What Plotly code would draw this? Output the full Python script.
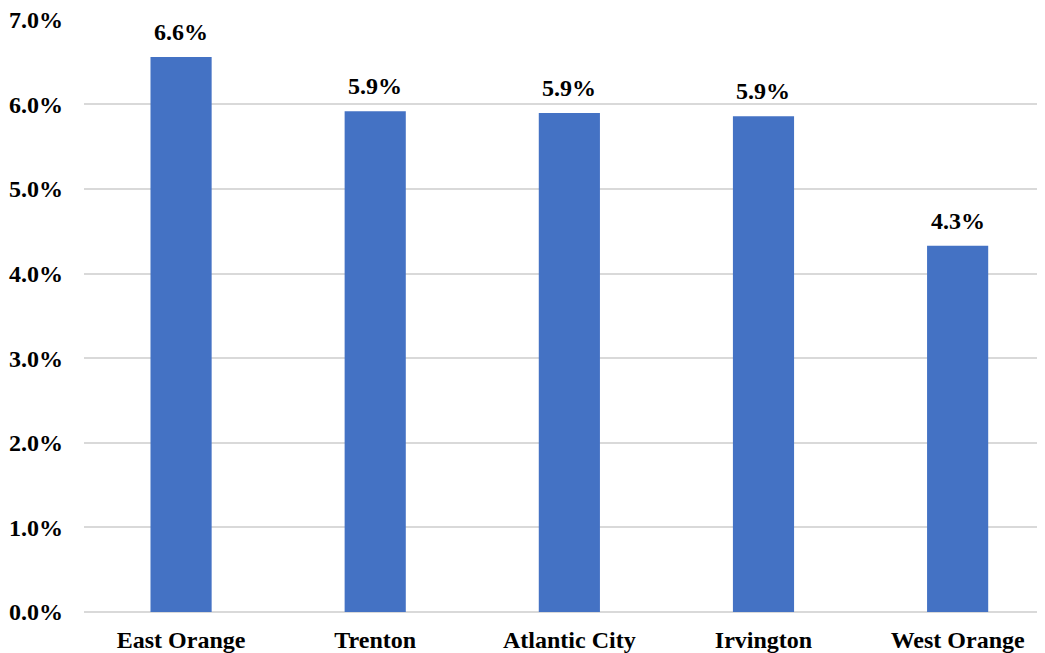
import plotly.graph_objects as go

# data (percent)
cities = ['East Orange', 'Trenton', 'Atlantic City', 'Irvington', 'West Orange']
rates = [6.56, 5.92, 5.90, 5.86, 4.33]
y_ticks = [0, 1, 2, 3, 4, 5, 6, 7]

font_family = 'Liberation Serif, Times New Roman, serif'

fig = go.Figure()
fig.add_trace(go.Bar(
    x=cities, y=rates,
    marker=dict(color='#4472C4', line=dict(width=0)),
    width=0.315,
    hoverinfo='x+y',
))

# value labels above the bars
for c, v in zip(cities, rates):
    fig.add_annotation(
        x=c, y=v, text='<b>%.1f%%</b>' % v,
        showarrow=False, yanchor='bottom', yshift=10,
        font=dict(family=font_family, size=24, color='black'),
    )

# the page body adds an 8px margin, so the figure is a bit smaller
fig.update_layout(
    width=1037, height=645,
    margin=dict(l=76, r=0, t=11, b=41),
    paper_bgcolor='white', plot_bgcolor='white',
    showlegend=False,
    font=dict(family=font_family, size=24, color='black'),
    bargap=0.685,
)
fig.update_xaxes(
    range=[-0.5, 4.45], showgrid=False, zeroline=False,
    showline=False, ticks='', ticklabelstandoff=11,
    tickfont=dict(family=font_family, size=24, color='black', weight='bold'),
)
# a hair of headroom so the 7.0% gridline is still drawn
fig.update_yaxes(
    range=[0, 7.01], tickmode='array', tickvals=y_ticks,
    ticktext=['%.1f%%' % t for t in y_ticks],
    showgrid=True, gridcolor='#d9d9d9', gridwidth=1.5,
    zeroline=True, zerolinecolor='#d9d9d9', zerolinewidth=1.5,
    showline=False, ticks='', ticklabelstandoff=20,
    ticklabeloverflow='allow',
    tickfont=dict(family=font_family, size=24, color='black', weight='bold'),
)

fig.write_html('out.html')
